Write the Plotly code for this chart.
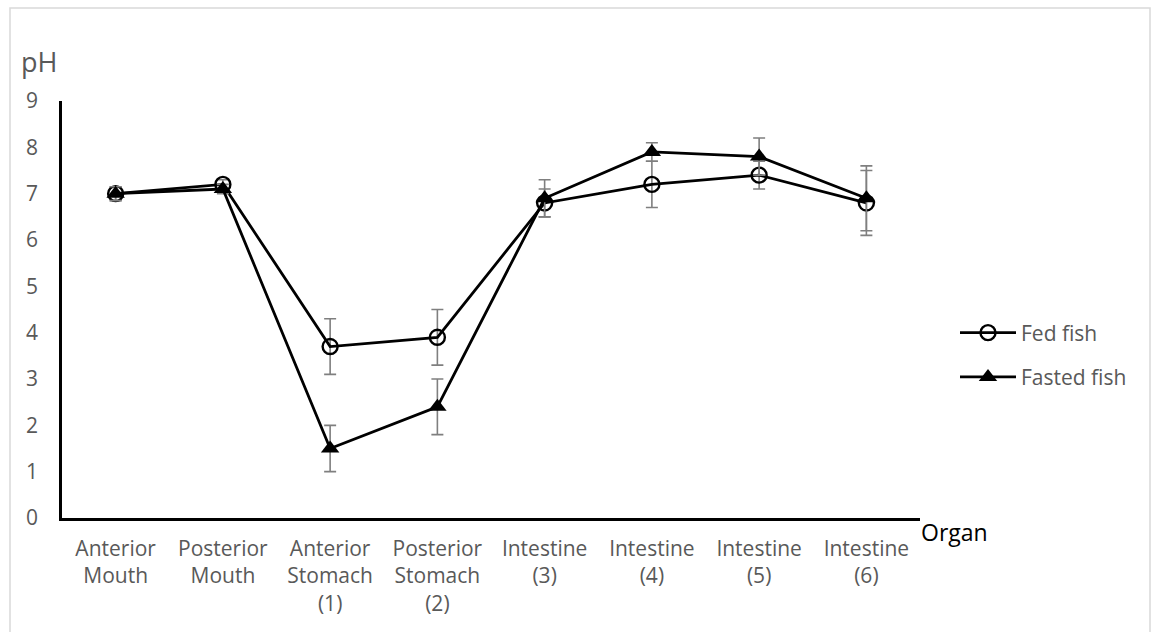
import plotly.graph_objects as go

# Organ segments along the digestive tract
organs = [
    "Anterior<br>Mouth", "Posterior<br>Mouth", "Anterior<br>Stomach<br>(1)",
    "Posterior<br>Stomach<br>(2)", "Intestine<br>(3)", "Intestine<br>(4)",
    "Intestine<br>(5)", "Intestine<br>(6)",
]

# Mean pH and standard deviation per segment
fed_ph = [7.0, 7.2, 3.7, 3.9, 6.8, 7.2, 7.4, 6.8]
fed_sd = [0.15, 0.1, 0.6, 0.6, 0.3, 0.5, 0.3, 0.7]
fasted_ph = [7.0, 7.1, 1.5, 2.4, 6.9, 7.9, 7.8, 6.9]
fasted_sd = [0.15, 0.1, 0.5, 0.6, 0.4, 0.2, 0.4, 0.7]

y_ticks = [0, 1, 2, 3, 4, 5, 6, 7, 8, 9]

FONT = "Open Sans"
GRAY = "#595959"

# Plot-area pixel geometry (used for paper-coordinate decorations)
L, R, T, B = 62, 234, 101, 114
W, H = 1154, 632
PW, PH = W - L - R, H - T - B


def px_x(px):
    return (px - L) / PW


def px_y(py):
    return (H - B - py) / PH


fig = go.Figure()

fig.add_trace(go.Scatter(
    x=organs, y=fed_ph, name="Fed fish", mode="lines+markers",
    line=dict(color="black", width=2.8),
    marker=dict(symbol="circle-open", size=15, color="black",
                line=dict(width=2.4, color="black")),
    error_y=dict(type="data", array=fed_sd, visible=True,
                 color="#7f7f7f", thickness=1.6, width=6),
    legendgroup="fed",
))

fig.add_trace(go.Scatter(
    x=organs, y=fasted_ph, name="Fasted fish", mode="lines+markers",
    line=dict(color="black", width=2.8),
    marker=dict(symbol="triangle-up", size=16, color="black"),
    error_y=dict(type="data", array=fasted_sd, visible=True,
                 color="#7f7f7f", thickness=1.6, width=6),
    legendgroup="fasted",
))

# Outer chart border
fig.add_shape(type="rect", xref="paper", yref="paper",
              x0=px_x(10), x1=px_x(1150), y0=px_y(640), y1=px_y(8),
              line=dict(color="#d9d9d9", width=1.5), fillcolor="rgba(0,0,0,0)",
              layer="below")

# Axis titles
fig.add_annotation(text="pH", xref="paper", yref="paper",
                   x=px_x(39), y=px_y(62), xanchor="center", yanchor="middle",
                   showarrow=False, font=dict(family=FONT, size=27, color=GRAY))
fig.add_annotation(text="Organ", xref="paper", yref="paper",
                   x=px_x(919), y=px_y(532), xanchor="left", yanchor="middle",
                   showarrow=False, font=dict(family=FONT, size=23, color="black"))

fig.update_layout(
    width=W, height=H,
    margin=dict(l=L, r=R, t=T, b=B, autoexpand=False),
    paper_bgcolor="white", plot_bgcolor="white",
    font=dict(family=FONT, size=21, color=GRAY),
    showlegend=True,
    legend=dict(x=px_x(955), y=px_y(355), xanchor="left", yanchor="middle",
                font=dict(family=FONT, size=21, color=GRAY),
                traceorder="grouped", tracegroupgap=14, itemwidth=56,
                bgcolor="rgba(0,0,0,0)"),
    xaxis=dict(
        type="category", range=[-0.5, 7.5],
        showline=True, linecolor="black", linewidth=2.5,
        showgrid=False, zeroline=False, ticks="",
        ticklabelstandoff=10,
        tickfont=dict(family=FONT, size=21, color=GRAY),
        fixedrange=True,
    ),
    yaxis=dict(
        range=[0, 9], tickvals=y_ticks,
        showline=True, linecolor="black", linewidth=2.5,
        showgrid=False, zeroline=False, ticks="",
        ticklabelstandoff=17,
        tickfont=dict(family=FONT, size=21, color=GRAY),
        fixedrange=True,
    ),
)

fig.write_html("out.html")
